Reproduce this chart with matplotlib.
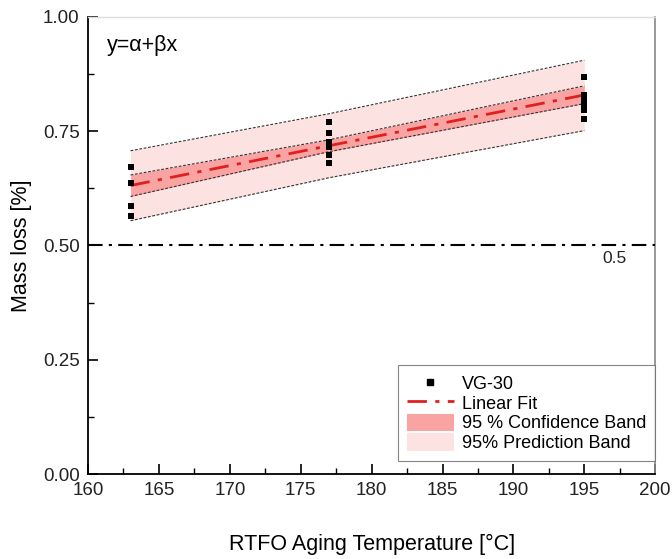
import matplotlib
matplotlib.use("Agg")
import matplotlib.pyplot as plt
from matplotlib.lines import Line2D
from matplotlib.patches import Patch
from matplotlib.ticker import MultipleLocator

plt.rcParams['font.family'] = ['Liberation Sans', 'DejaVu Sans']

# --- data ---
temp_pts = [163, 163, 163, 163,
            177, 177, 177, 177, 177, 177,
            195, 195, 195, 195, 195, 195]
mass_loss = [0.672, 0.636, 0.586, 0.565,
             0.769, 0.745, 0.726, 0.716, 0.698, 0.680,
             0.869, 0.829, 0.815, 0.805, 0.797, 0.777]

band_x = [163, 177, 195]
fit_y = [0.631, 0.718, 0.829]
conf_lo = [0.607, 0.705, 0.810]
conf_hi = [0.654, 0.731, 0.849]
pred_lo = [0.554, 0.648, 0.751]
pred_hi = [0.707, 0.788, 0.905]

limit_value = 0.5

fig = plt.figure(figsize=(6.72, 5.59), dpi=100)
ax = fig.add_axes([0.131, 0.152, 0.844, 0.818])

pred_col = '#fde2e2'
conf_col = '#f9a3a3'
ax.fill_between(band_x, pred_lo, pred_hi, color=pred_col, lw=0, zorder=1)
ax.fill_between(band_x, conf_lo, conf_hi, color=conf_col, lw=0, zorder=2)
for arr in (pred_lo, pred_hi, conf_lo, conf_hi):
    ax.plot(band_x, arr, color='#333333', lw=0.8, ls=(0, (2.5, 1.5)), zorder=3)
ax.plot(band_x, fit_y, color='#e0201e', lw=2.0, ls=(0, (7, 3, 1.5, 3)), zorder=4)
ax.scatter(temp_pts, mass_loss, marker='s', s=24, color='black', zorder=5, lw=0)

ax.axhline(limit_value, color='black', lw=1.5, ls=(0, (7, 3, 1.5, 3)), zorder=3)
ax.text(198.0, limit_value - 0.012, '0.5', ha='right', va='top', fontsize=12.5,
        color='#222222')

ax.text(161.3, 0.96, 'y=α+βx', fontsize=15.5, va='top', ha='left')

ax.set_xlim(160, 200)
ax.set_ylim(0, 1.0)
ax.xaxis.set_major_locator(MultipleLocator(5))
ax.xaxis.set_minor_locator(MultipleLocator(2.5))
ax.yaxis.set_major_locator(MultipleLocator(0.25))
ax.yaxis.set_minor_locator(MultipleLocator(0.125))
ax.yaxis.set_major_formatter(matplotlib.ticker.FormatStrFormatter('%.2f'))
ax.tick_params(axis='both', which='major', direction='in', length=7, width=1.2,
               labelsize=13.5, pad=6, labelcolor='#222222')
ax.tick_params(axis='both', which='minor', direction='in', length=4, width=1.0)

for s in ('left', 'bottom'):
    ax.spines[s].set_linewidth(1.3)
    ax.spines[s].set_color('black')
ax.spines['right'].set_color('#888888')
ax.spines['right'].set_linewidth(1.2)
ax.spines['top'].set_color('#dddddd')
ax.spines['top'].set_linewidth(1.0)

ax.set_xlabel('RTFO Aging Temperature [°C]', fontsize=15.5, labelpad=25)
ax.set_ylabel('Mass loss [%]', fontsize=15.5, labelpad=8)

handles = [
    Line2D([], [], marker='s', color='black', ls='none', markersize=4),
    Line2D([], [], color='#e0201e', lw=2.0, ls=(0, (7, 3, 1.5, 3))),
    Patch(facecolor=conf_col, edgecolor='none'),
    Patch(facecolor=pred_col, edgecolor='none'),
]
labels = ['VG-30', 'Linear Fit', '95 % Confidence Band', '95% Prediction Band']
leg = ax.legend(handles, labels, loc='lower right', bbox_to_anchor=(1.0, 0.028),
                fontsize=13, frameon=True, fancybox=False, borderpad=0.5,
                labelspacing=0.05, handlelength=2.6, handleheight=1.1,
                handletextpad=0.45, borderaxespad=0)
leg.get_frame().set_edgecolor('#666666')
leg.get_frame().set_linewidth(0.8)

fig.savefig('out.png', dpi=100)
